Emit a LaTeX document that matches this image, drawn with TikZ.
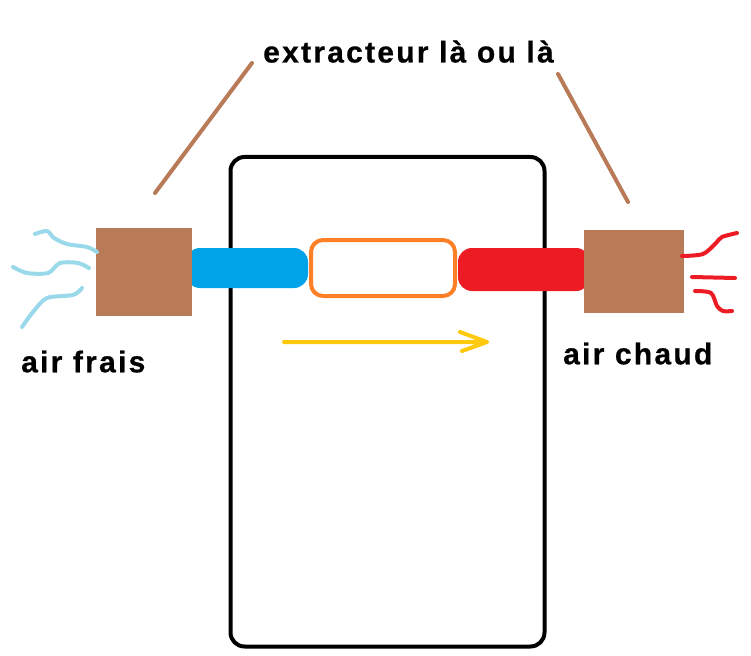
\documentclass[tikz,border=0pt]{standalone}
\usepackage{fontspec}
\setmainfont{Liberation Sans}
\definecolor{pbrown}{HTML}{B97A57}
\definecolor{pblue}{HTML}{00A2E8}
\definecolor{pred}{HTML}{ED1C24}
\definecolor{porange}{HTML}{FF7F27}
\definecolor{pyellow}{HTML}{FFC90E}
\definecolor{plblue}{HTML}{99D9EA}
\begin{document}
\begin{tikzpicture}[x=1pt,y=-1pt,
  lbl/.style={inner sep=0pt,anchor=base west,font=\fontsize{30}{36}\selectfont\bfseries\addfontfeature{LetterSpace=7.5,FakeBold=0.6}},
  fan/.style={fill=pbrown,draw=none},
  pointer/.style={draw=pbrown,line width=4pt,line cap=round},
  wispb/.style={draw=plblue,line width=4pt,line cap=round,line join=round},
  wispr/.style={draw=pred,line width=4pt,line cap=round,line join=round}]
\useasboundingbox (0,0) rectangle (751,655);
% enclosure
\draw[line width=4pt,rounded corners=14pt] (230.5,157) rectangle (544.5,646.5);
% ducts
\fill[pblue,rounded corners=14pt] (186,248) rectangle (308,288);
\fill[pred,rounded corners=14pt] (458,248) rectangle (590,291);
\node[draw=porange,fill=white,line width=4pt,rounded corners=12pt,minimum width=144pt,minimum height=56pt,inner sep=0pt] (hx) at (383,268) {};
% fans
\node[fan,minimum width=96pt,minimum height=88pt,inner sep=0pt] (fanL) at (144,272) {};
\node[fan,minimum width=100pt,minimum height=83pt,inner sep=0pt] (fanR) at (634,271.5) {};
% label
\node[lbl] (title) at (263,62.5) {extracteur là ou là};
\coordinate (pL) at (252,63);
\coordinate (pR) at (558,74);
\draw[pointer] (pL) -- (155,193);
\draw[pointer] (pR) -- (628,202);
\node[lbl] (frais) at (21,372.3) {air frais};
\node[lbl] (chaud) at (563,364.3) {air chaud};
% flow arrow
\coordinate (a0) at (284,342);
\coordinate (a1) at (487,342);
\draw[pyellow,line width=4pt,line cap=round,line join=round] (a0) -- (a1) (460,332) -- (a1) -- (462,351);
% cold air wisps
\draw[wispb] plot[smooth] coordinates {(35,234) (47,231) (54,238) (67,244) (87,247) (97,252)};
\draw[wispb] plot[smooth] coordinates {(13,267) (27,273) (48,273) (60,263) (78,263) (89,268)};
\draw[wispb] plot[smooth] coordinates {(22,327) (33,312) (47,298) (73,295) (82,288)};
% hot air wisps
\draw[wispr] plot[smooth] coordinates {(682,256) (703,254) (716,243) (722,237) (737,233)};
\draw[wispr] (692,277) -- (735,278);
\draw[wispr] plot[smooth] coordinates {(695,291) (711,293) (717,306) (723,311) (732,311)};
\end{tikzpicture}
\end{document}
